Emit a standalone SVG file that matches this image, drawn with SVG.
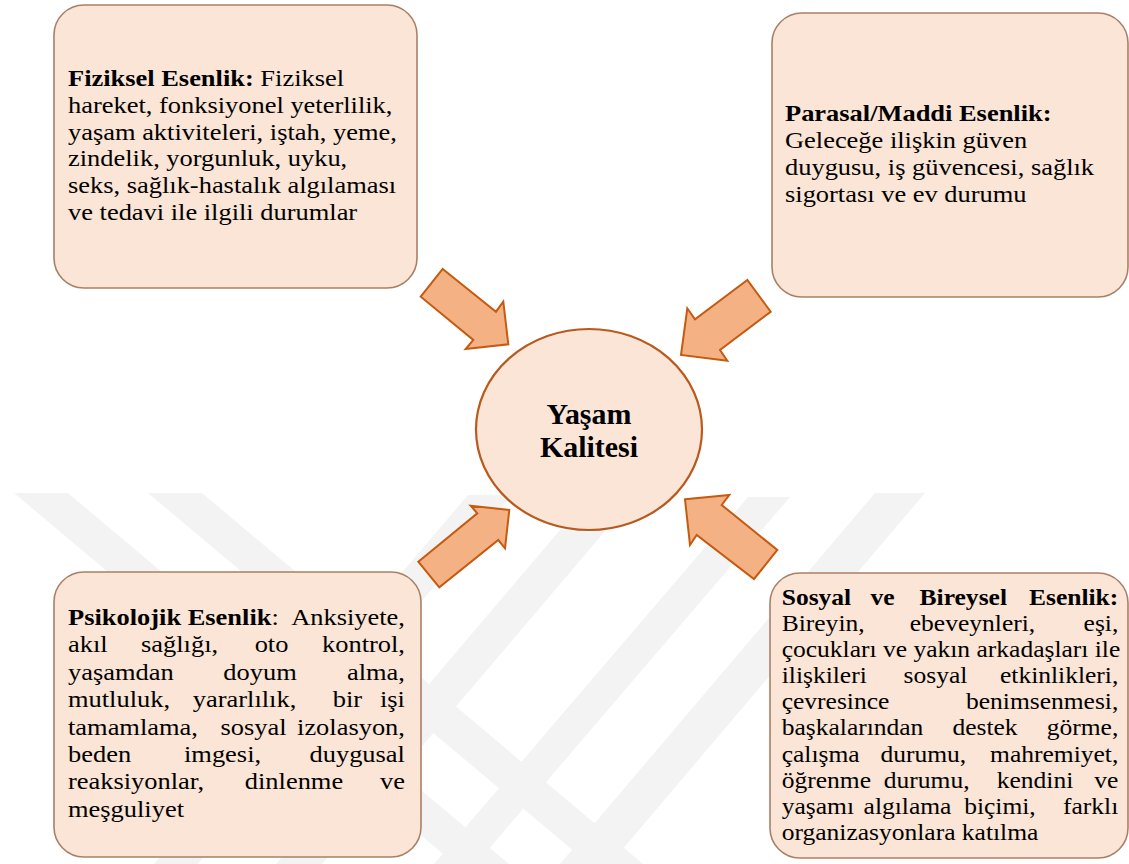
<svg xmlns="http://www.w3.org/2000/svg" width="1129" height="864" viewBox="0 0 1129 864">
<style>
.wm{fill:#F3F3F3}
.box{fill:#FBE5D6;stroke:#A98066;stroke-width:1.6}
.circ{fill:#FBE5D6;stroke:#B85A1E;stroke-width:2.2}
.arr{fill:#F4B183;stroke:#C55A11;stroke-width:2;stroke-linejoin:miter}
text{font-family:"Liberation Serif",Tinos,"Times New Roman",Times,"Nimbus Roman","Nimbus Roman No9 L",FreeSerif,"Noto Serif","DejaVu Serif",serif;fill:#000}
.t{font-size:23px}
.t4{font-size:22.2px}
.b{font-weight:bold}
.c{font-size:28.5px;font-weight:bold;text-anchor:middle}
.m{text-anchor:middle}
.e{text-anchor:end}
</style>
<rect width="1129" height="864" fill="#FFFFFF"/>
<g id="watermark">
<polygon class="wm" points="14,493 68,493 509,864 455,864"/>
<polygon class="wm" points="148,493 202,493 643,864 589,864"/>
<polygon class="wm" points="468,495 512,495 198,864 154,864"/>
<polygon class="wm" points="560,530 606,530 322,864 276,864"/>
<polygon class="wm" points="748,497 790,497 476,864 434,864"/>
<polygon class="wm" points="875,493 925,493 610,864 560,864"/>
</g>
<g id="connectors">
<polygon class="arr" points="442.7,269 496,311.7 503.3,301.7 508.3,344.3 465.7,349 473.3,340 420.7,296.7"/>
<polygon class="arr" points="747.3,280 695,319.3 687.3,308.3 681,355 727.3,360.7 720,350 770.7,311.7"/>
<polygon class="arr" points="418.3,561.7 477.3,513.3 470.7,505.7 509.3,510 505,548.3 498.3,540 439.3,587.3"/>
<polygon class="arr" points="685,499.3 729.3,495 721.7,505 777.3,550 754,579 696.7,535 690,545"/>
</g>
<g id="node-center">
<ellipse class="circ" cx="589" cy="429.5" rx="113" ry="100.5"/>
<g transform="translate(589 0) scale(1.05 1)">
<text class="c" x="0" y="424">Yaşam</text>
<text class="c" x="0" y="457">Kalitesi</text>
</g>
</g>
<g id="node-fiziksel">
<rect class="box" x="54" y="5" width="363" height="283" rx="30"/>
<g transform="translate(68 0) scale(1.15 1)">
<text class="t" x="0" y="86"><tspan class="b">Fiziksel Esenlik:</tspan> Fiziksel</text>
<text class="t" x="0" y="112.8">hareket, fonksiyonel  yeterlilik,</text>
<text class="t" x="0" y="139.6">yaşam aktiviteleri, iştah, yeme,</text>
<text class="t" x="0" y="166.4">zindelik, yorgunluk, uyku,</text>
<text class="t" x="0" y="193.2">seks, sağlık-hastalık algılaması</text>
<text class="t" x="0" y="220">ve tedavi ile ilgili durumlar</text>
</g>
</g>
<g id="node-parasal">
<rect class="box" x="772" y="13" width="356" height="284" rx="30"/>
<g transform="translate(785 0) scale(1.15 1)">
<text class="t b" x="0" y="120.7">Parasal/Maddi Esenlik:</text>
<text class="t" x="0" y="147.7">Geleceğe ilişkin güven</text>
<text class="t" x="0" y="174.7">duygusu, iş güvencesi, sağlık</text>
<text class="t" x="0" y="201.7">sigortası ve ev durumu</text>
</g>
</g>
<g id="node-psikolojik">
<rect class="box" x="54" y="572" width="367" height="285" rx="30"/>
<g transform="translate(68 0) scale(1.15 1)">
<text class="t" x="0" y="625"><tspan class="b">Psikolojik Esenlik</tspan>: <tspan class="e" x="293">Anksiyete,</tspan></text>
<text class="t" y="652.4"><tspan x="0">akıl</tspan><tspan class="m" x="97">sağlığı,</tspan><tspan class="m" x="177">oto</tspan><tspan class="e" x="293">kontrol,</tspan></text>
<text class="t" y="679.8"><tspan x="0">yaşamdan</tspan><tspan class="m" x="167">doyum</tspan><tspan class="e" x="293">alma,</tspan></text>
<text class="t" y="707.2"><tspan x="0">mutluluk,</tspan><tspan class="m" x="153.5">yararlılık,</tspan><tspan class="m" x="243">bir</tspan><tspan class="e" x="293">işi</tspan></text>
<text class="t" y="734.6"><tspan x="0">tamamlama,</tspan><tspan class="m" x="161.3">sosyal</tspan><tspan class="e" x="293">izolasyon,</tspan></text>
<text class="t" y="762"><tspan x="0">beden</tspan><tspan class="m" x="134.4">imgesi,</tspan><tspan class="e" x="293">duygusal</tspan></text>
<text class="t" y="789.4"><tspan x="0">reaksiyonlar,</tspan><tspan class="m" x="196.5">dinlenme</tspan><tspan class="e" x="293">ve</tspan></text>
<text class="t" x="0" y="816.8">meşguliyet</text>
</g>
</g>
<g id="node-sosyal">
<rect class="box" x="770" y="573" width="358" height="285" rx="30"/>
<g transform="translate(781.7 0) scale(1.15 1)">
<text class="t4 b" y="605"><tspan x="0">Sosyal</tspan><tspan class="m" x="87.7">ve</tspan><tspan class="m" x="157.9">Bireysel</tspan><tspan class="e" x="292.7">Esenlik:</tspan></text>
<text class="t4" y="631.1"><tspan x="0">Bireyin,</tspan><tspan class="m" x="165.9">ebeveynleri,</tspan><tspan class="e" x="292.7">eşi,</tspan></text>
<text class="t4" x="0" y="657.2">çocukları ve yakın arkadaşları ile</text>
<text class="t4" y="683.3"><tspan x="0">ilişkileri</tspan><tspan class="m" x="133.7">sosyal</tspan><tspan class="e" x="292.7">etkinlikleri,</tspan></text>
<text class="t4" y="709.4"><tspan x="0">çevresince</tspan><tspan class="e" x="292.7">benimsenmesi,</tspan></text>
<text class="t4" y="735.5"><tspan x="0">başkalarından</tspan><tspan class="m" x="176.8">destek</tspan><tspan class="e" x="292.7">görme,</tspan></text>
<text class="t4" y="761.6"><tspan x="0">çalışma</tspan><tspan class="m" x="123.1">durumu,</tspan><tspan class="e" x="292.7">mahremiyet,</tspan></text>
<text class="t4" y="787.7"><tspan x="0">öğrenme</tspan><tspan class="m" x="126.1">durumu,</tspan><tspan class="m" x="220.3">kendini</tspan><tspan class="e" x="292.7">ve</tspan></text>
<text class="t4" y="813.8"><tspan x="0">yaşamı</tspan><tspan class="m" x="109.4">algılama</tspan><tspan class="m" x="189.8">biçimi,</tspan><tspan class="e" x="292.7">farklı</tspan></text>
<text class="t4" x="0" y="839.9">organizasyonlara katılma</text>
</g>
</g>
</svg>
